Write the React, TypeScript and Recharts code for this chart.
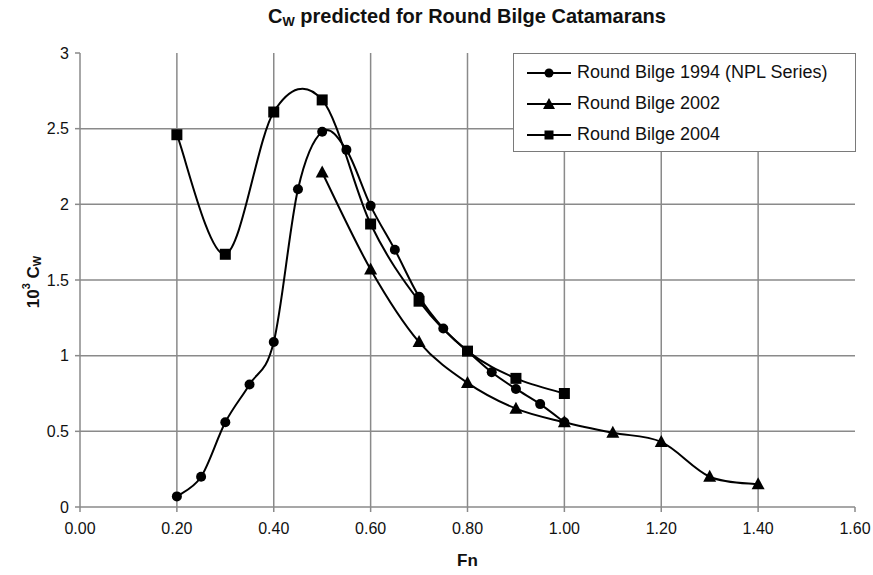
import React from 'react';
import { LineChart, Line, XAxis, YAxis, ReferenceLine } from 'recharts';

const fn1994 = [0.2, 0.25, 0.3, 0.35, 0.4, 0.45, 0.5, 0.55, 0.6, 0.65, 0.7, 0.75, 0.8, 0.85, 0.9, 0.95, 1.0];
const cw1994 = [0.07, 0.2, 0.56, 0.81, 1.09, 2.1, 2.48, 2.36, 1.99, 1.7, 1.39, 1.18, 1.03, 0.89, 0.78, 0.68, 0.56];

const fn2002 = [0.5, 0.6, 0.7, 0.8, 0.9, 1.0, 1.1, 1.2, 1.3, 1.4];
const cw2002 = [2.21, 1.57, 1.09, 0.82, 0.65, 0.56, 0.49, 0.43, 0.2, 0.15];

const fn2004 = [0.2, 0.3, 0.4, 0.5, 0.6, 0.7, 0.8, 0.9, 1.0];
const cw2004 = [2.46, 1.67, 2.61, 2.69, 1.87, 1.36, 1.03, 0.85, 0.75];

const seriesNames = ['Round Bilge 1994 (NPL Series)', 'Round Bilge 2002', 'Round Bilge 2004'];
const xTicks = [0, 0.2, 0.4, 0.6, 0.8, 1.0, 1.2, 1.4, 1.6];
const yTicks = [0, 0.5, 1, 1.5, 2, 2.5, 3];
const xGrid = [0.2, 0.4, 0.6, 0.8, 1.0, 1.2, 1.4];
const yGrid = [0.5, 1, 1.5, 2, 2.5];

const toPoints = (xs: number[], ys: number[]) => xs.map((x, i) => ({ x, y: ys[i] }));
const data1994 = toPoints(fn1994, cw1994);
const data2002 = toPoints(fn2002, cw2002);
const data2004 = toPoints(fn2004, cw2004);

// Catmull-Rom style smoothing similar to Excel smoothed lines
const smoothCurve = (context: any) => {
  let pts: number[][] = [];
  return {
    areaStart() {},
    areaEnd() {},
    lineStart() { pts = []; },
    point(x: number, y: number) { pts.push([+x, +y]); },
    lineEnd() {
      const n = pts.length;
      if (!n) return;
      context.moveTo(pts[0][0], pts[0][1]);
      for (let i = 0; i < n - 1; i++) {
        const p0 = pts[i - 1] || pts[i];
        const p1 = pts[i];
        const p2 = pts[i + 1];
        const p3 = pts[i + 2] || pts[i + 1];
        const c1x = p1[0] + (p2[0] - p0[0]) / 6;
        const c1y = p1[1] + (p2[1] - p0[1]) / 6;
        const c2x = p2[0] - (p3[0] - p1[0]) / 6;
        const c2y = p2[1] - (p3[1] - p1[1]) / 6;
        context.bezierCurveTo(c1x, c1y, c2x, c2y, p2[0], p2[1]);
      }
    },
  };
};

const CircleDot = (props: any) => {
  const { cx, cy } = props;
  if (cx == null || cy == null) return null;
  return <circle key={`c-${cx}-${cy}`} cx={cx} cy={cy} r={5} fill="#000" />;
};
const TriDot = (props: any) => {
  const { cx, cy } = props;
  if (cx == null || cy == null) return null;
  return (
    <polygon key={`t-${cx}-${cy}`} points={`${cx},${cy - 7} ${cx - 6.5},${cy + 5} ${cx + 6.5},${cy + 5}`} fill="#000" />
  );
};
const SquareDot = (props: any) => {
  const { cx, cy } = props;
  if (cx == null || cy == null) return null;
  return <rect key={`s-${cx}-${cy}`} x={cx - 5.5} y={cy - 5.5} width={11} height={11} fill="#000" />;
};

const FONT = 'Arial, "Liberation Sans", Helvetica, sans-serif';

const LegendIcon = ({ kind }: { kind: number }) => (
  <svg width={44} height={14} style={{ display: 'block' }}>
    <line x1={0} y1={7} x2={44} y2={7} stroke="#000" strokeWidth={2} />
    {kind === 0 && <circle cx={22} cy={7} r={4.5} fill="#000" />}
    {kind === 1 && <polygon points="22,1 16,12 28,12" fill="#000" />}
    {kind === 2 && <rect x={17.5} y={2.5} width={9} height={9} fill="#000" />}
  </svg>
);

const LegendBox = () => (
  <div
    style={{
      position: 'absolute',
      left: 513,
      top: 53,
      width: 343,
      height: 99,
      border: '1.5px solid #7a7a7a',
      background: '#fff',
      boxSizing: 'border-box',
      paddingTop: 3,
      paddingLeft: 13,
      fontFamily: FONT,
      fontSize: 18,
      color: '#111',
      zIndex: 2,
    }}
  >
    {seriesNames.map((name, i) => (
      <div key={name} style={{ display: 'flex', alignItems: 'center', height: 31 }}>
        <LegendIcon kind={i} />
        <span style={{ marginLeft: 6, whiteSpace: 'nowrap' }}>{name}</span>
      </div>
    ))}
  </div>
);

const YLabel = () => {
  const cx = 33;
  const cy = 282;
  return (
    <text
      x={cx}
      y={cy}
      transform={`rotate(-90, ${cx}, ${cy})`}
      textAnchor="middle"
      dominantBaseline="central"
      fontFamily={FONT}
      fontWeight="bold"
      fontSize={17}
      fill="#111"
    >
      <tspan>10</tspan>
      <tspan fontSize={11} dy={-7}>3</tspan>
      <tspan dy={7}> C</tspan>
      <tspan fontSize={11} dy={4}>W</tspan>
    </text>
  );
};

export default function App() {
  return (
    <div style={{ position: 'absolute', left: 0, top: 0, width: 873, height: 575, background: '#fff' }}>
      <div
        style={{
          position: 'absolute',
          left: 0,
          top: 5,
          width: 934,
          textAlign: 'center',
          fontFamily: FONT,
          fontWeight: 'bold',
          fontSize: 20,
          color: '#111',
          zIndex: 2,
          whiteSpace: 'nowrap',
        }}
      >
        C<sub style={{ fontSize: 13, verticalAlign: -3 }}>W</sub> predicted for Round Bilge Catamarans
      </div>
      <LegendBox />
      <LineChart
        width={873}
        height={575}
        margin={{ top: 53, right: 18, left: 0, bottom: 28 }}
        style={{ fontFamily: FONT }}
      >
        {xGrid.map((v) => (
          <ReferenceLine key={`vx${v}`} x={v} stroke="#8a8a8a" strokeWidth={1.5} ifOverflow="visible" />
        ))}
        {yGrid.map((v) => (
          <ReferenceLine key={`hy${v}`} y={v} stroke="#8a8a8a" strokeWidth={1.5} ifOverflow="visible" />
        ))}
        <XAxis
          type="number"
          dataKey="x"
          domain={[0, 1.6]}
          ticks={xTicks}
          interval={0}
          tickFormatter={(v: number) => v.toFixed(2)}
          allowDataOverflow
          height={40}
          axisLine={{ stroke: '#8a8a8a', strokeWidth: 1.5 }}
          tickLine={{ stroke: '#8a8a8a', strokeWidth: 1.5 }}
          tickSize={5}
          tick={{ fill: '#111', fontSize: 16, fontFamily: FONT }}
          tickMargin={11}
          label={{ value: 'Fn', position: 'insideBottom', offset: -19, fill: '#111', fontSize: 17, fontWeight: 'bold', fontFamily: FONT }}
        />
        <YAxis
          type="number"
          domain={[0, 3]}
          ticks={yTicks}
          interval={0}
          width={80}
          allowDataOverflow
          axisLine={{ stroke: '#8a8a8a', strokeWidth: 1.5 }}
          tickLine={{ stroke: '#8a8a8a', strokeWidth: 1.5 }}
          tickSize={5}
          tickMargin={6}
          tick={{ fill: '#111', fontSize: 16, fontFamily: FONT }}
          label={{ content: YLabel }}
        />
        <Line
          data={data1994}
          dataKey="y"
          name={seriesNames[0]}
          type={smoothCurve as any}
          stroke="#000"
          strokeWidth={2}
          dot={CircleDot}
          activeDot={false}
          isAnimationActive={false}
        />
        <Line
          data={data2002}
          dataKey="y"
          name={seriesNames[1]}
          type={smoothCurve as any}
          stroke="#000"
          strokeWidth={2}
          dot={TriDot}
          activeDot={false}
          isAnimationActive={false}
        />
        <Line
          data={data2004}
          dataKey="y"
          name={seriesNames[2]}
          type={smoothCurve as any}
          stroke="#000"
          strokeWidth={2}
          dot={SquareDot}
          activeDot={false}
          isAnimationActive={false}
        />
      </LineChart>
    </div>
  );
}
